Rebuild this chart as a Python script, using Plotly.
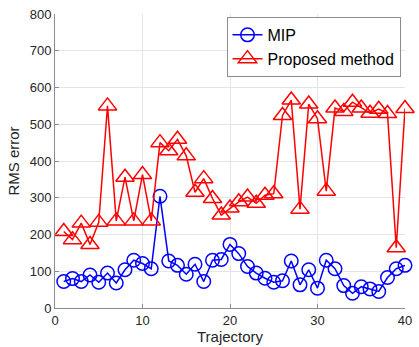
import plotly.graph_objects as go

trajectory = list(range(1, 41))
mip = [72, 80, 72, 90, 70, 95, 68, 104, 130, 121,
       107, 304, 128, 116, 92, 119, 72, 130, 132, 173,
       148, 113, 95, 81, 70, 74, 128, 63, 104, 54,
       130, 107, 61, 40, 58, 52, 45, 83, 107, 116]
proposed = [208, 186, 231, 173, 233, 550, 237, 356, 237, 363,
            237, 450, 428, 459, 414, 315, 352, 298, 253, 272,
            289, 302, 285, 307, 311, 524, 566, 269, 555, 515,
            318, 544, 535, 560, 544, 530, 541, 529, 164, 543]
x_ticks = [0, 10, 20, 30, 40]
y_ticks = [0, 100, 200, 300, 400, 500, 600, 700, 800]

FONT = "Liberation Sans, Arial, Helvetica, sans-serif"

fig = go.Figure()
fig.add_trace(go.Scatter(
    x=trajectory, y=mip, name="MIP", mode="lines+markers", cliponaxis=False,
    line=dict(color="#0000ff", width=1.5),
    marker=dict(symbol="circle-open", size=13.5, color="#0000ff",
                line=dict(width=1.5, color="#0000ff")),
))
fig.add_trace(go.Scatter(
    x=trajectory, y=proposed, name="Proposed method", mode="lines+markers",
    cliponaxis=False,
    line=dict(color="#ff0000", width=1.5),
    marker=dict(symbol="triangle-up-open", size=16, color="#ff0000",
                line=dict(width=1.5, color="#ff0000")),
))

axis_common = dict(
    showgrid=True, gridcolor="#e5e5e5", gridwidth=1,
    zeroline=False, showline=True, linecolor="#8c8c8c", linewidth=1,
    ticks="inside", ticklen=4, tickcolor="#8c8c8c",
    tickfont=dict(family=FONT, size=13, color="#262626"),
    mirror=False, ticklabeloverflow="allow",
)

fig.update_layout(
    width=419, height=347,
    margin=dict(l=55, r=7, t=14, b=34),
    paper_bgcolor="white", plot_bgcolor="white",
    font=dict(family=FONT, color="#262626"),
    showlegend=True,
    legend=dict(
        x=0.49, y=0.99, xanchor="left", yanchor="top",
        bgcolor="white", bordercolor="#8c8c8c", borderwidth=1,
        font=dict(family=FONT, size=16, color="#000000"),
        tracegroupgap=0, itemwidth=30,
    ),
    xaxis=dict(range=[0, 40], tickvals=x_ticks,
               title=dict(text="Trajectory", standoff=2,
                          font=dict(family=FONT, size=15, color="#262626")),
               **axis_common),
    yaxis=dict(range=[0, 800], tickvals=y_ticks,
               title=dict(text="RMS error", standoff=6,
                          font=dict(family=FONT, size=15, color="#262626")),
               **axis_common),
)

fig.write_html("out.html")
